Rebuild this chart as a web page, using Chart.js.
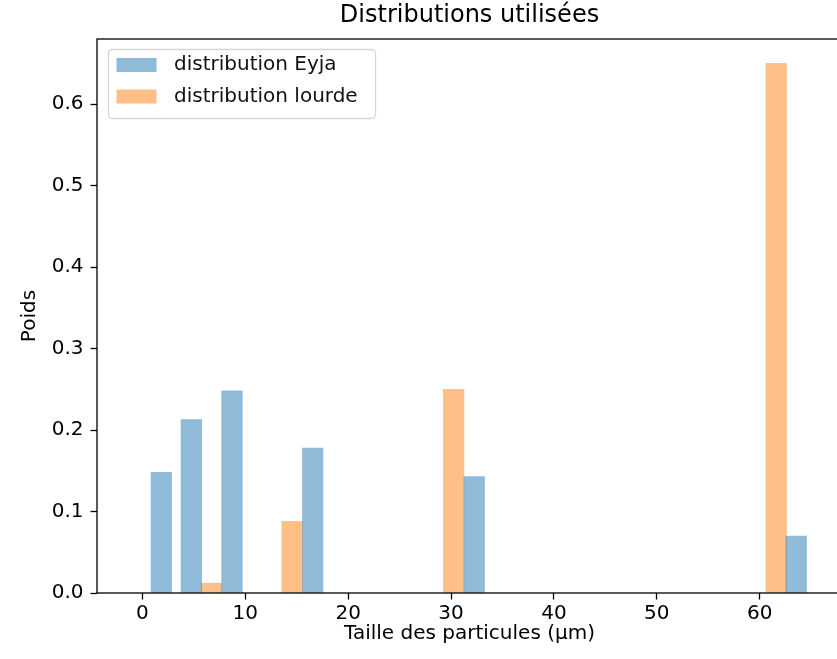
<!DOCTYPE html>
<html><head><meta charset="utf-8">
<script src="https://cdn.jsdelivr.net/npm/chart.js@4/dist/chart.umd.min.js"></script>
<style>html,body{margin:0;padding:0;overflow:hidden;background:#fff}#wrap{position:relative;width:846px;height:659px}</style>
</head><body><div id="wrap"><canvas id="c"></canvas></div>
<script>
const titleText = 'Distributions utilisées';
const xAxisLabel = 'Taille des particules (µm)';
const yAxisLabel = 'Poids';
const seriesNames = ['distribution Eyja', 'distribution lourde'];
const eyjaSizes = [1.83, 4.75, 8.7, 16.55, 32.25, 63.55];
const eyjaWeights = [0.148, 0.213, 0.248, 0.178, 0.143, 0.070];
const lourdeSizes = [6.7, 14.55, 30.25, 61.6];
const lourdeWeights = [0.012, 0.088, 0.250, 0.650];
const xTickValues = [0, 10, 20, 30, 40, 50, 60];
const yTickValues = [0, 0.1, 0.2, 0.3, 0.4, 0.5, 0.6];
const barWidthUnits = 2;

const X_MIN = -4.42, X_MAX = 68, Y_MIN = 0, Y_MAX = 0.68;
const W = 846, H = 659;
const PLOT_LEFT = 97, PLOT_RIGHT = 842, PLOT_TOP = 39, PLOT_BOTTOM = 593;
const barPx = barWidthUnits * (PLOT_RIGHT - PLOT_LEFT) / (X_MAX - X_MIN);
const FONT = "'DejaVu Sans', sans-serif";
const colors = ['rgba(31,119,180,0.5)', 'rgba(255,127,14,0.5)'];

Chart.defaults.font.family = FONT;
Chart.defaults.color = '#000';

const framePlugin = {
  id: 'frame',
  afterDatasetsDraw(chart) {
    const { ctx, chartArea: a } = chart;
    ctx.save();
    ctx.strokeStyle = '#000';
    ctx.lineWidth = 1.3;
    ctx.strokeRect(a.left, a.top, a.right - a.left, a.bottom - a.top);
    ctx.restore();
  }
};

const legendPlugin = {
  id: 'mplLegend',
  afterDraw(chart) {
    const ctx = chart.ctx;
    const bx = 108.5, by = 49.5, bw = 267, bh = 69, r = 4;
    ctx.save();
    ctx.beginPath();
    ctx.moveTo(bx + r, by);
    ctx.arcTo(bx + bw, by, bx + bw, by + bh, r);
    ctx.arcTo(bx + bw, by + bh, bx, by + bh, r);
    ctx.arcTo(bx, by + bh, bx, by, r);
    ctx.arcTo(bx, by, bx + bw, by, r);
    ctx.closePath();
    ctx.fillStyle = 'rgba(255,255,255,0.8)';
    ctx.fill();
    ctx.strokeStyle = 'rgba(204,204,204,0.8)';
    ctx.lineWidth = 1.3;
    ctx.stroke();
    chart.data.datasets.forEach((ds, i) => {
      const cy = 65 + i * 31.5;
      ctx.fillStyle = ds.backgroundColor;
      ctx.fillRect(116.5, cy - 7, 40, 14);
      ctx.fillStyle = '#111';
      ctx.font = '20px ' + FONT;
      ctx.textBaseline = 'middle';
      ctx.textAlign = 'left';
      ctx.fillText(ds.label, 174, cy);
    });
    ctx.restore();
  }
};

new Chart(document.getElementById('c'), {
  type: 'bar',
  data: {
    datasets: [
      {
        label: seriesNames[0],
        data: eyjaSizes.map((x, i) => ({ x: x, y: eyjaWeights[i] })),
        backgroundColor: colors[0],
        borderWidth: 0,
        barThickness: barPx,
        grouped: false
      },
      {
        label: seriesNames[1],
        data: lourdeSizes.map((x, i) => ({ x: x, y: lourdeWeights[i] })),
        backgroundColor: colors[1],
        borderWidth: 0,
        barThickness: barPx,
        grouped: false
      }
    ]
  },
  options: {
    responsive: true,
    maintainAspectRatio: false,
    animation: false,
    layout: { padding: { left: 0, right: W - PLOT_RIGHT, top: 0, bottom: 0 } },
    plugins: {
      legend: { display: false },
      tooltip: { enabled: false },
      title: {
        display: true,
        fullSize: false,
        text: titleText,
        color: '#000',
        font: { size: 24, weight: 'normal', family: FONT, lineHeight: 1.2 },
        padding: { top: 1, bottom: 9.2 }
      }
    },
    scales: {
      x: {
        type: 'linear',
        min: X_MIN,
        max: X_MAX,
        offset: false,
        afterFit: s => { s.height = H - PLOT_BOTTOM; },
        afterBuildTicks: s => { s.ticks = xTickValues.map(v => ({ value: v })); },
        border: { display: false },
        grid: { display: true, offset: false, drawOnChartArea: false, drawTicks: true, tickLength: 6.5, tickWidth: 1.3, tickColor: '#000' },
        ticks: { color: '#000', font: { size: 20 }, padding: 2, maxRotation: 0, autoSkip: false, callback: v => String(v) },
        title: { display: true, text: xAxisLabel, color: '#000', font: { size: 20 }, padding: { top: 0, bottom: 13 } }
      },
      y: {
        type: 'linear',
        min: Y_MIN,
        max: Y_MAX,
        afterFit: s => { s.width = PLOT_LEFT; },
        afterBuildTicks: s => { s.ticks = yTickValues.map(v => ({ value: v })); },
        border: { display: false },
        grid: { display: true, drawOnChartArea: false, drawTicks: true, tickLength: 6.5, tickWidth: 1.3, tickColor: '#000' },
        ticks: { color: '#000', font: { size: 20 }, padding: 7, callback: v => Number(v).toFixed(1) },
        title: { display: true, text: yAxisLabel, color: '#000', font: { size: 20 }, padding: { top: 18, bottom: 0 } }
      }
    }
  },
  plugins: [framePlugin, legendPlugin]
});
</script></body></html>
